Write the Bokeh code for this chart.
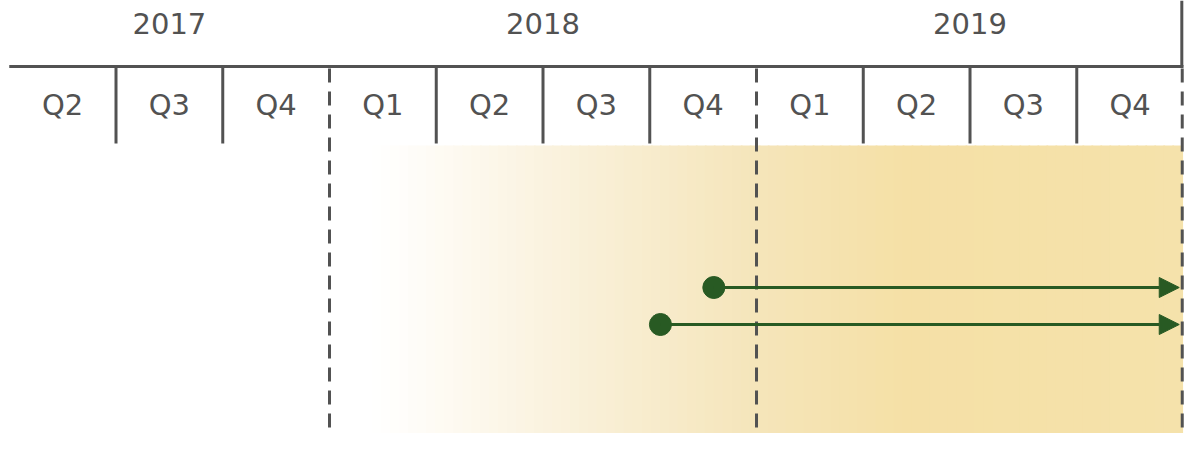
import numpy as np
from bokeh.plotting import figure
from bokeh.models import Range1d, Arrow, NormalHead
from bokeh.core.properties import value
from bokeh.embed import file_html
from bokeh.resources import INLINE

# ---- data ----
years = ["2017", "2018", "2019"]
year_start = [2017.25, 2018.0, 2019.0]
year_end = [2018.0, 2019.0, 2020.0]
quarter_labels = ["Q2", "Q3", "Q4", "Q1", "Q2", "Q3", "Q4", "Q1", "Q2", "Q3", "Q4"]
quarter_start = [2017.25, 2017.5, 2017.75, 2018.0, 2018.25, 2018.5, 2018.75,
                 2019.0, 2019.25, 2019.5, 2019.75]
quarter_ticks = [2017.5, 2017.75, 2018.25, 2018.5, 2018.75, 2019.25, 2019.5, 2019.75]
year_bounds = [2018.0, 2019.0, 2020.0]
item_start = [2018.90, 2018.775]
item_end = [2019.99, 2019.99]
item_row = [287, 324]
band_start = 2018.10
band_end = 2019.995
grad_pos = [2018.10, 2018.25, 2018.52, 2019.0, 2019.35, 2019.995]
grad_col = [(255, 255, 255), (254, 251, 244), (250, 242, 222), (245, 229, 186),
            (245, 224, 166), (245, 226, 171)]

GRAY = "#525252"
GREEN = "#285a23"
FONT = value("DejaVu Sans")

# layout (screen-like vertical units, top = small)
TOP_LINE = 66
TICK_BOTTOM = 143
BAND_TOP = 145
BOTTOM = 449

p = figure(width=1184, height=433,
           x_range=Range1d(2017.2295, 2020.0023),
           y_range=Range1d(433, 0),
           output_backend="svg", toolbar_location=None, min_border=0)
p.axis.visible = False
p.grid.visible = False
p.outline_line_color = None
p.background_fill_color = "white"
p.border_fill_color = "white"

# gradient band
n = 90
edges = np.linspace(band_start, band_end, n + 1)
mids = (edges[:-1] + edges[1:]) / 2
cols = []
for m in mids:
    r = np.interp(m, grad_pos, [c[0] for c in grad_col])
    g = np.interp(m, grad_pos, [c[1] for c in grad_col])
    b = np.interp(m, grad_pos, [c[2] for c in grad_col])
    cols.append("#%02x%02x%02x" % (int(round(r)), int(round(g)), int(round(b))))
p.quad(left=edges[:-1], right=edges[1:] + 0.004, top=BAND_TOP, bottom=BOTTOM,
       fill_color=cols, line_color=None)

# top horizontal line and right vertical
p.segment(x0=[year_start[0]], x1=[year_end[-1]], y0=[TOP_LINE], y1=[TOP_LINE],
          line_color=GRAY, line_width=3)
p.segment(x0=[year_end[-1] - 0.004], x1=[year_end[-1] - 0.004], y0=[0], y1=[TOP_LINE],
          line_color=GRAY, line_width=3)

# quarter ticks
p.segment(x0=quarter_ticks, x1=quarter_ticks, y0=[TOP_LINE] * len(quarter_ticks),
          y1=[TICK_BOTTOM] * len(quarter_ticks), line_color=GRAY, line_width=3)

# year boundaries dashed
xb = [b - 0.003 if b == year_end[-1] else b for b in year_bounds]
p.segment(x0=xb, x1=xb, y0=[TOP_LINE + 2] * 3, y1=[BOTTOM] * 3,
          line_color=GRAY, line_width=3, line_dash="14 9")

# labels
p.text(x=[(a + b) / 2 for a, b in zip(year_start, year_end)], y=[23] * 3, text=years,
       text_font=FONT, text_font_size="29px", text_color=GRAY,
       text_align="center", text_baseline="middle")
p.text(x=[q + 0.125 for q in quarter_start], y=[104] * len(quarter_start),
       text=quarter_labels, text_font=FONT, text_font_size="29px", text_color=GRAY,
       text_align="center", text_baseline="middle")

# items: arrows
for xs, xe, yr in zip(item_start, item_end, item_row):
    p.add_layout(Arrow(x_start=xs, y_start=yr, x_end=xe, y_end=yr,
                       line_color=GREEN, line_width=3,
                       end=NormalHead(size=20, fill_color=GREEN, line_color=GREEN, line_width=1)))
p.scatter(x=item_start, y=item_row, size=22, fill_color=GREEN, line_color=GREEN)

open("out.html", "w").write(file_html(p, INLINE))
